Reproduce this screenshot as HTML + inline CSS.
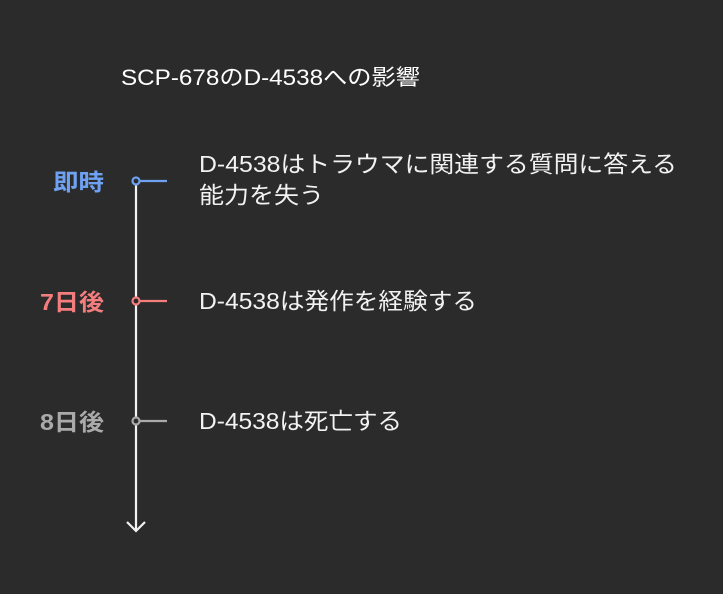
<!DOCTYPE html>
<html><head><meta charset="utf-8"><style>
html,body{margin:0;padding:0;background:#2b2b2b;width:723px;height:594px;overflow:hidden}
svg{display:block}
text{font-family:"Liberation Sans","Noto Sans CJK JP",sans-serif}
</style></head><body>
<svg width="723" height="594" viewBox="0 0 723 594">
<rect width="723" height="594" fill="#2b2b2b"/>
<text x="121" y="85" font-size="22" fill="#ffffff" textLength="299" lengthAdjust="spacingAndGlyphs">SCP-678のD-4538への影響</text>
<line x1="136" y1="185" x2="136" y2="531" stroke="#f2f2f2" stroke-width="2.2"/>
<polyline points="127,522 136,531 145,522" fill="none" stroke="#f2f2f2" stroke-width="2.2"/>
<line x1="139" y1="181" x2="167" y2="181" stroke="#6ea1f2" stroke-width="2.2"/>
<circle cx="136" cy="181" r="3.5" fill="#2b2b2b" stroke="#6ea1f2" stroke-width="2.2"/>
<line x1="139" y1="301" x2="167" y2="301" stroke="#f47d7d" stroke-width="2.2"/>
<circle cx="136" cy="301" r="3.5" fill="#2b2b2b" stroke="#f47d7d" stroke-width="2.2"/>
<line x1="139" y1="421" x2="167" y2="421" stroke="#aaaaaa" stroke-width="2.2"/>
<circle cx="136" cy="421" r="3.5" fill="#2b2b2b" stroke="#aaaaaa" stroke-width="2.2"/>
<text x="53" y="190" font-size="23" font-weight="bold" fill="#6ea1f2" textLength="51" lengthAdjust="spacingAndGlyphs">即時</text>
<text x="40" y="310" font-size="23" font-weight="bold" fill="#f47d7d" textLength="64" lengthAdjust="spacingAndGlyphs">7日後</text>
<text x="40" y="430" font-size="23" font-weight="bold" fill="#aaaaaa" textLength="64" lengthAdjust="spacingAndGlyphs">8日後</text>
<text x="199" y="172" font-size="23" fill="#f2f2f2" textLength="478" lengthAdjust="spacingAndGlyphs">D-4538はトラウマに関連する質問に答える</text>
<text x="199" y="203" font-size="23" fill="#f2f2f2" textLength="125" lengthAdjust="spacingAndGlyphs">能力を失う</text>
<text x="199" y="309" font-size="23" fill="#f2f2f2" textLength="278" lengthAdjust="spacingAndGlyphs">D-4538は発作を経験する</text>
<text x="199" y="429" font-size="23" fill="#f2f2f2" textLength="203" lengthAdjust="spacingAndGlyphs">D-4538は死亡する</text>
</svg>
</body></html>
